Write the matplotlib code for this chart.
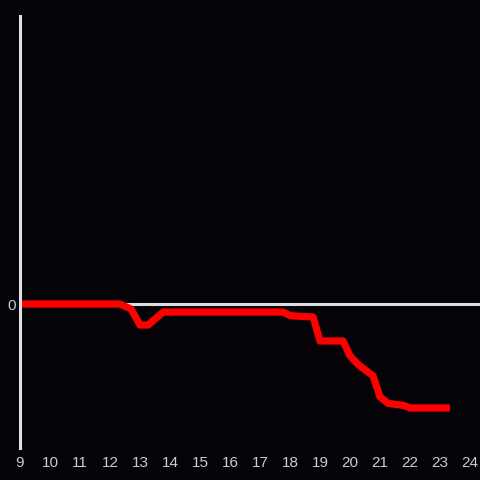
import matplotlib
matplotlib.use('Agg')
import matplotlib.pyplot as plt

hours = [9.0, 12.33, 12.7, 13.0, 13.27, 13.77, 17.77, 18.0, 18.27, 18.77,
         19.0, 19.77, 20.0, 20.27, 20.77, 21.0, 21.27, 21.8, 22.0, 23.33]
values = [0.0, 0.0, -0.035, -0.146, -0.146, -0.056, -0.056, -0.08, -0.085, -0.09,
          -0.257, -0.257, -0.36, -0.42, -0.5, -0.645, -0.69, -0.705, -0.722, -0.722]
xticks = list(range(9, 25))

bg = '#050307'
fig = plt.figure(figsize=(4.8, 4.8), dpi=100, facecolor=bg)
ax = fig.add_axes([20 / 480, 32 / 480, 460 / 480, 432 / 480], facecolor=bg)

ax.axhline(0, color='#dddddd', lw=2.2, zorder=1)
ax.plot(hours, values, color='#ff0000', lw=5.2, solid_capstyle='butt', zorder=2)

ax.set_xlim(9, 24.333)
ax.set_ylim(-1, 2)
ax.set_xticks(xticks)
ax.set_xticklabels([str(t) for t in xticks])
ax.set_yticks([0])
ax.set_yticklabels(['0'])
ax.tick_params(length=0, colors='#cccccc', labelsize=11, labelfontfamily='Liberation Sans')
ax.tick_params(axis='x', pad=5.5)
ax.tick_params(axis='y', pad=3)

for s in ['top', 'right', 'bottom']:
    ax.spines[s].set_visible(False)
ax.spines['left'].set_color('#e0e0e0')
ax.spines['left'].set_linewidth(2.2)

fig.savefig('out.png', facecolor=bg)
